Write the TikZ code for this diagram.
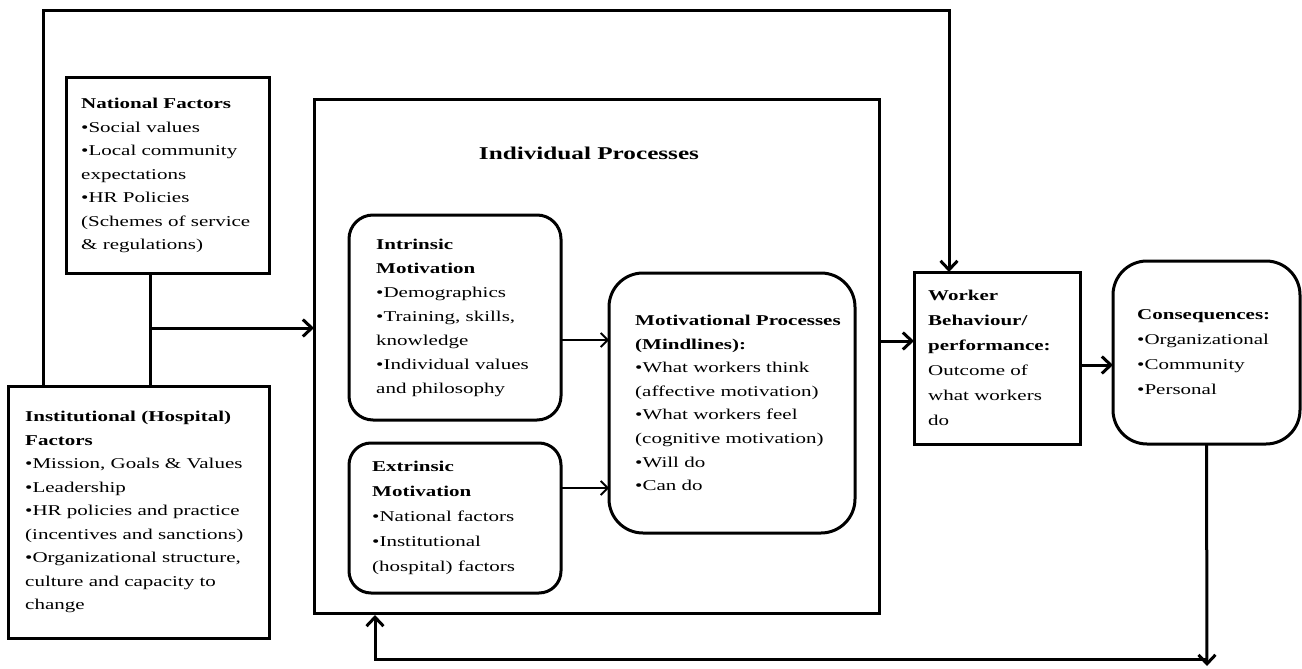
\documentclass[tikz,border=0pt]{standalone}
\usepackage{fontspec}
\setmainfont{Liberation Serif}[FakeStretch=1.4]
\usetikzlibrary{arrows.meta}
\begin{document}
\begin{tikzpicture}[x=1pt,y=-1pt,
  box/.style={draw,line width=3pt,inner sep=0pt,outer sep=0pt},
  txt/.style={anchor=west,align=left,inner sep=0pt,font=\fontsize{15}{23.5}\selectfont},
  conn/.style={line width=3pt,line join=miter},
  big/.style={line width=3pt,line join=miter,-{Straight Barb[length=9pt,width=17pt,line width=3pt]}},
  thin/.style={line width=1.8pt,-{Straight Barb[length=7pt,width=14pt,line width=1.8pt]}}]
\useasboundingbox (0,0) rectangle (1302,669);
% boxes
\node[box,minimum width=203pt,minimum height=195pt] (nat) at (167.5,175.5) {};
\node[box,minimum width=261pt,minimum height=252pt] (inst) at (138.5,512) {};
\node[box,minimum width=565pt,minimum height=513pt] (ind) at (596.5,356.5) {};
\node[box,rounded corners=24pt,minimum width=212pt,minimum height=205pt] (intr) at (455,317.5) {};
\node[box,rounded corners=22pt,minimum width=212pt,minimum height=150pt] (ext) at (455,518) {};
\node[box,rounded corners=34pt,minimum width=246pt,minimum height=260pt] (mot) at (732,403) {};
\node[box,minimum width=166pt,minimum height=172pt] (wk) at (997,358) {};
\node[box,rounded corners=34pt,minimum width=187pt,minimum height=183pt] (cons) at (1206.5,352.5) {};
% texts
\node[txt] (natT) at ([xshift=15pt]nat.west) {\textbf{National Factors}\\•Social values\\•Local community\\expectations\\•HR Policies\\(Schemes of service\\\& regulations)};
\node[txt] (instT) at ([xshift=17pt]inst.west) {\textbf{Institutional (Hospital)}\\\textbf{Factors}\\•Mission, Goals \& Values\\•Leadership\\•HR policies and practice\\(incentives and sanctions)\\•Organizational structure,\\culture and capacity to\\change};
\node[font=\fontsize{18}{22}\selectfont\bfseries,inner sep=0pt] (title) at (589,153) {Individual Processes};
\node[txt,font=\fontsize{15}{24}\selectfont] (intrT) at ([xshift=27pt]intr.west) {\textbf{Intrinsic}\\\textbf{Motivation}\\•Demographics\\•Training, skills,\\knowledge\\•Individual values\\and philosophy};
\node[txt,font=\fontsize{15}{25}\selectfont] (extT) at ([xshift=23pt]ext.west) {\textbf{Extrinsic}\\\textbf{Motivation}\\•National factors\\•Institutional\\(hospital) factors};
\node[txt,font=\fontsize{15}{23.6}\selectfont] (motT) at ([xshift=26pt]mot.west) {\textbf{Motivational Processes}\\\textbf{(Mindlines):}\\•What workers think\\(affective motivation)\\•What workers feel\\(cognitive motivation)\\•Will do\\•Can do};
\node[txt,font=\fontsize{15}{25}\selectfont] (wkT) at ([xshift=14pt]wk.west) {\textbf{Worker}\\\textbf{Behaviour/}\\\textbf{performance:}\\Outcome of\\what workers\\do};
\node[txt,font=\fontsize{15}{25}\selectfont] (consT) at ([xshift=24pt]cons.west) {\textbf{Consequences:}\\•Organizational\\•Community\\•Personal};
% connectors
\coordinate (j) at (150,328);
\draw[conn] (nat.south -| j) -- (inst.north -| j);
\draw[big] (j) -- (ind.west |- j);
\coordinate (tl) at (43,11);
\coordinate (tr) at (949,11);
\draw[big] (inst.north -| tl) -- (tl) -- (tr) -- (wk.north -| tr);
\coordinate (a1) at (0,341);
\draw[big] (ind.east |- a1) -- (wk.west |- a1);
\coordinate (a2) at (0,365);
\draw[big] (wk.east |- a2) -- (cons.west |- a2);
\coordinate (a3) at (0,340);
\draw[thin] (intr.east |- a3) -- (mot.west |- a3);
\coordinate (a4) at (0,488);
\draw[thin] (ext.east |- a4) -- (mot.west |- a4);
\coordinate (br) at (1207,659);
\coordinate (brt) at (1207,666);
\coordinate (bl) at (375,659);
\draw[big] (cons.south) -- (brt);
\draw[big,shorten >=2pt] (br) -- (bl) -- (ind.south -| bl);
\end{tikzpicture}
\end{document}
